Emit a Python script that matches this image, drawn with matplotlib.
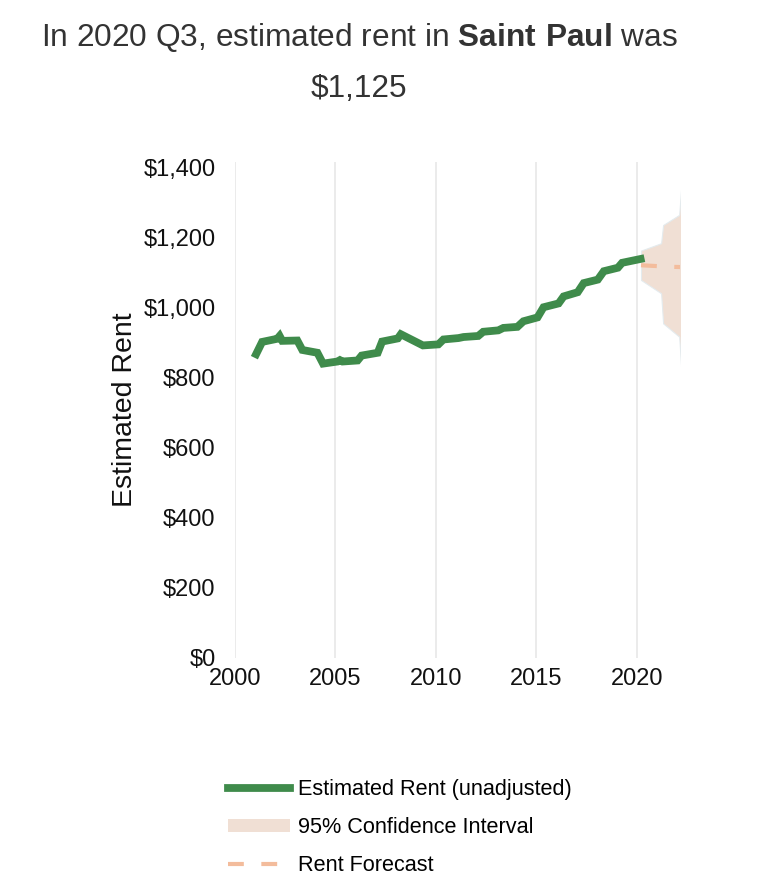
import matplotlib
matplotlib.use("Agg")
import matplotlib.pyplot as plt
from matplotlib.lines import Line2D
from matplotlib.patches import Patch

plt.rcParams['font.family'] = ['Liberation Sans', 'DejaVu Sans']
plt.rcParams['mathtext.fontset'] = 'custom'
plt.rcParams['mathtext.rm'] = 'Liberation Sans'
plt.rcParams['mathtext.bf'] = 'Liberation Sans:bold'

# estimated rent (unadjusted)
rent_dates = [2001.05, 2001.35, 2002.10, 2002.22, 2002.35, 2003.10, 2003.35, 2004.10,
              2004.38, 2005.10, 2005.22, 2005.35, 2006.10, 2006.30, 2007.10, 2007.32,
              2008.10, 2008.25, 2009.35, 2010.12, 2010.37, 2011.12, 2011.37, 2012.10,
              2012.35, 2013.10, 2013.35, 2014.05, 2014.35, 2015.05, 2015.35, 2016.10,
              2016.35, 2017.05, 2017.35, 2018.05, 2018.35, 2019.05, 2019.26, 2020.18]
rent_values = [868, 903, 912, 920, 906, 907, 880, 872,
               841, 847, 851, 847, 850, 864, 872, 904,
               913, 925, 893, 896, 910, 914, 917, 920,
               932, 936, 943, 946, 962, 973, 1002, 1013,
               1033, 1045, 1071, 1081, 1105, 1115, 1129, 1140]

# forecast and 95% confidence interval
fc_dates = [2020.2, 2021.2, 2021.3, 2022.1, 2022.3]
fc_mean = [1122, 1119, 1118, 1117, 1116]
fc_upper = [1164, 1185, 1237, 1266, 1420]
fc_lower = [1080, 1042, 956, 918, 740]

year_ticks = [2000, 2005, 2010, 2015, 2020]
rent_ticks = [0, 200, 400, 600, 800, 1000, 1200, 1400]

W, H = 778, 892
fig = plt.figure(figsize=(W / 100, H / 100), dpi=100)
ax = fig.add_axes([235 / W, 1 - 658 / H, (680 - 235) / W, (658 - 162) / H])

green = '#3f8b4b'
band = '#f0dfd4'
dash = '#f3bc9c'

ax.fill_between(fc_dates, fc_lower, fc_upper, facecolor=band, edgecolor='#e4ebee',
                linewidth=0.8, zorder=2)
ax.plot(fc_dates, fc_mean, color=dash, linewidth=3.0, dashes=(3.8, 4.2),
        dash_capstyle='butt', zorder=3)
ax.plot(rent_dates, rent_values, color=green, linewidth=5.6,
        solid_joinstyle='miter', zorder=4)

ax.set_xlim(2000, 2022.14)
ax.set_ylim(0, 1417)
ax.set_xticks(year_ticks)
ax.set_yticks(rent_ticks)
ax.set_yticklabels(['${:,}'.format(v) for v in rent_ticks])
ax.grid(axis='x', color='#e6e6e6', linewidth=1.1)
ax.set_axisbelow(True)
for s in ax.spines.values():
    s.set_visible(False)
ax.tick_params(axis='y', length=0, pad=14, labelsize=17, labelcolor='#111111')
ax.tick_params(axis='x', length=0, pad=7.5, labelsize=17, labelcolor='#111111')

ax.set_ylabel('Estimated Rent', fontsize=20.5, color='#111111')
ax.yaxis.set_label_coords(-0.217, 0.5)

fig.text(359 / W, 1 - 38 / H, r'In 2020 Q3, estimated rent in $\mathbf{Saint\ Paul}$ was',
         ha='center', va='center', fontsize=22.8, color='#333333')
fig.text(359 / W, 1 - 89 / H, r'\$1,125',
         ha='center', va='center', fontsize=22.8, color='#333333')

handles = [
    Line2D([], [], color=green, linewidth=5.6),
    Patch(facecolor=band, edgecolor='none'),
    Line2D([], [], color=dash, linewidth=3.0, dashes=(3.8, 4.2), dash_capstyle='butt'),
]
labels = ['Estimated Rent (unadjusted)', '95% Confidence Interval', 'Rent Forecast']
fig.legend(handles, labels, loc='upper left', bbox_to_anchor=(228 / W, 1 - 779 / H),
           frameon=False, fontsize=15.6, handlelength=2.85, handletextpad=0.4,
           labelspacing=0.78, borderpad=0, borderaxespad=0, handleheight=0.55)

fig.savefig('out.png', dpi=100)
